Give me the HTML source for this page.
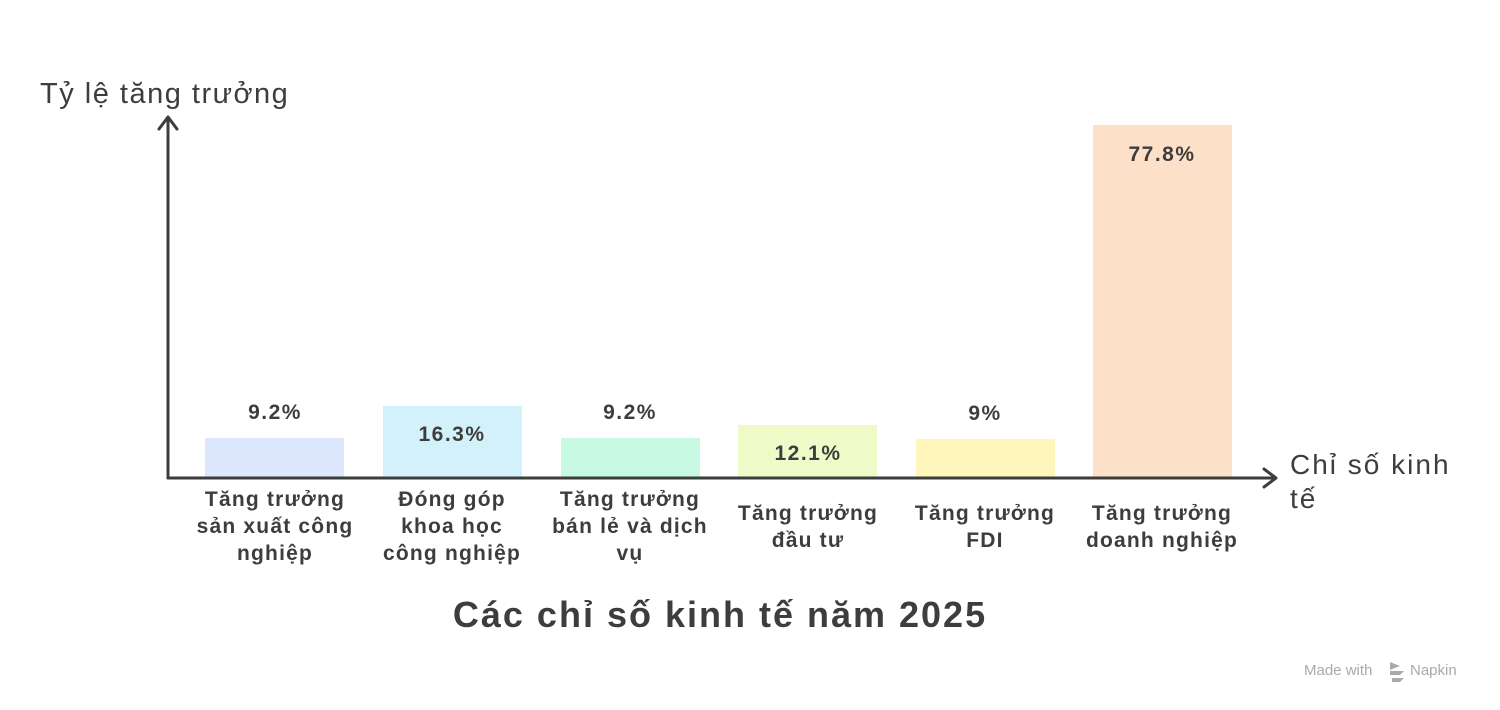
<!DOCTYPE html>
<html><head><meta charset="utf-8"><style>
body{margin:0;background:#fff}
svg{display:block}
text{font-family:"Liberation Sans","DejaVu Sans",sans-serif;fill:#3d3d3d}
.v{font-weight:bold;font-size:21px;text-anchor:middle;letter-spacing:1.5px}
.c{font-weight:bold;font-size:21px;text-anchor:middle;letter-spacing:1.2px}
</style></head><body>
<svg width="1500" height="710" viewBox="0 0 1500 710">
<rect x="205" y="438" width="139" height="40" fill="#dce6fc"/>
<rect x="383" y="406" width="139" height="72" fill="#d3f1fb"/>
<rect x="561" y="438" width="139" height="40" fill="#c8f9e3"/>
<rect x="738" y="425" width="139" height="53" fill="#eefbc9"/>
<rect x="916" y="439" width="139" height="39" fill="#fef6bb"/>
<rect x="1093" y="125" width="139" height="353" fill="#fde0c8"/>
<g stroke="#3d3d3d" stroke-width="3" fill="none" stroke-linecap="round" stroke-linejoin="round">
<path d="M168 478 H1275"/><path d="M1264 469 L1276 478 L1264 487"/>
<path d="M168 478 V118"/><path d="M159 129 L168 117 L177 129"/>
</g>
<text class="v" x="275" y="419">9.2%</text>
<text class="v" x="452" y="441">16.3%</text>
<text class="v" x="630" y="419">9.2%</text>
<text class="v" x="808" y="460">12.1%</text>
<text class="v" x="985" y="420">9%</text>
<text class="v" x="1162" y="161">77.8%</text>
<text class="c" x="275" y="506">Tăng trưởng</text><text class="c" x="275" y="533">sản xuất công</text><text class="c" x="275" y="560">nghiệp</text>
<text class="c" x="452" y="506">Đóng góp</text><text class="c" x="452" y="533">khoa học</text><text class="c" x="452" y="560">công nghiệp</text>
<text class="c" x="630" y="506">Tăng trưởng</text><text class="c" x="630" y="533">bán lẻ và dịch</text><text class="c" x="630" y="560">vụ</text>
<text class="c" x="808" y="520">Tăng trưởng</text><text class="c" x="808" y="547">đầu tư</text>
<text class="c" x="985" y="520">Tăng trưởng</text><text class="c" x="985" y="547">FDI</text>
<text class="c" x="1162" y="520">Tăng trưởng</text><text class="c" x="1162" y="547">doanh nghiệp</text>
<text x="40" y="103" font-size="29" letter-spacing="1.5">Tỷ lệ tăng trưởng</text>
<text x="1290" y="474" font-size="28" letter-spacing="2">Chỉ số kinh</text>
<text x="1290" y="508" font-size="28" letter-spacing="2">tế</text>
<text x="720" y="627" font-size="36" font-weight="bold" text-anchor="middle" letter-spacing="2">Các chỉ số kinh tế năm 2025</text>
<text x="1304" y="675" font-size="15" style="fill:#aaa">Made with</text>
<g fill="#aaa"><path d="M1390 662 l10 4 -10 4z M1390 671 l14 0 -4 4 -10 0z M1392 678 l12 0 -4 4 -8 0z"/></g>
<text x="1410" y="675" font-size="15" style="fill:#aaa">Napkin</text>
</svg>
</body></html>
